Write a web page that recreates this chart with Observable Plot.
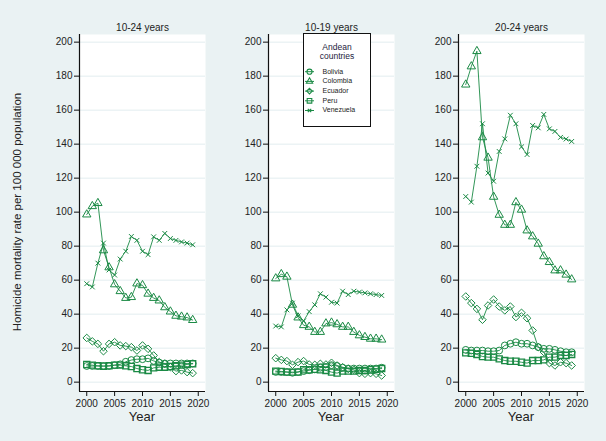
<!DOCTYPE html>
<html>
<head>
<meta charset="utf-8">
<script src="https://cdn.jsdelivr.net/npm/d3@7"></script>
<script src="https://cdn.jsdelivr.net/npm/@observablehq/plot@0.6"></script>
<style>
  html, body { margin: 0; padding: 0; background: #eaf2f3; }
  #root { position: relative; width: 606px; height: 441px; background: #eaf2f3; overflow: hidden;
          font-family: "Liberation Sans", Arial, sans-serif; }
  .panel { position: absolute; top: 0; }
  .ylab { position: absolute; left: 17px; top: 212px; transform: translate(-50%, -50%) rotate(-90deg);
          white-space: nowrap; font-size: 11.5px; color: #222; }
  .xlab { position: absolute; top: 409px; width: 126px; text-align: center; font-size: 13px; color: #222; }
  #legend { position: absolute; left: 303px; top: 33px; }
</style>
</head>
<body>
<div id="root">
  <div class="ylab">Homicide mortality rate per 100 000 population</div>
</div>
<script>
// ---------- data ----------
const years = [2000, 2001, 2002, 2003, 2004, 2005, 2006, 2007, 2008, 2009,
               2010, 2011, 2012, 2013, 2014, 2015, 2016, 2017, 2018, 2019];
const countries = ["Bolivia", "Colombia", "Ecuador", "Peru", "Venezuela"];
const panelTitles = ["10-24 years", "10-19 years", "20-24 years"];
const yTicks = [0, 20, 40, 60, 80, 100, 120, 140, 160, 180, 200];
const xTicks = [2000, 2005, 2010, 2015, 2020];
const legendTitle = ["Andean", "countries"];
const xLabel = "Year";

// 10-24 years
const bolivia1   = [9.5, 9.5, 9.5, 9.5, 9.5, 10, 10.5, 12, 13, 13.5, 13.5, 14, 12.5, 11.5, 11, 11, 11, 11, 11, 11];
const colombia1  = [98.6, 103.5, 105.3, 77.5, 67.5, 57.5, 53.5, 49.5, 50, 58, 57, 52, 49.5, 48, 44, 41.5, 39, 38.5, 38, 36.5];
const ecuador1   = [26, 24, 22.5, 18.2, 22.5, 23.5, 21.6, 21.2, 20.6, 18.6, 21.6, 19.6, 15.7, 11.8, 10.8, 8.8, 6.5, 6.9, 5.9, 5.3];
const peru1      = [10.4, 10, 9.6, 9.4, 9.6, 10, 10, 9.6, 9.2, 8, 7.3, 6.9, 8.4, 8.8, 8.8, 9.2, 9.6, 10, 10.4, 10.8];
const venezuela1 = [57.9, 56, 70, 81.8, 66, 63, 72.4, 77, 85.7, 83.4, 77, 75, 85.5, 83.4, 87.5, 84.5, 83.4, 82.5, 81.8, 80.8];

// 10-19 years
const bolivia2   = [6, 6, 6, 5.5, 6, 6.5, 7, 7.5, 8.5, 9, 10, 9.5, 8.5, 8, 8, 8, 8, 8, 8, 8.5];
const colombia2  = [61, 63.5, 62, 45.5, 38, 33.5, 32.5, 29.5, 29.5, 34.5, 35, 34, 32.5, 32.5, 29.5, 27.5, 26.5, 25.5, 25.5, 25];
const ecuador2   = [14.1, 13.1, 12.4, 10.2, 11.8, 12.4, 10.4, 10.2, 10.8, 10.4, 11.4, 9.8, 8.8, 7.8, 7.3, 5.3, 4.9, 5.3, 4.9, 3.9];
const peru2      = [6.5, 6.3, 5.9, 5.9, 5.9, 7.3, 7.3, 7.6, 7.3, 6.9, 5.9, 5.3, 6.5, 6.5, 6.5, 6.9, 6.9, 7.3, 7.6, 8];
const venezuela2 = [33, 32.5, 42.5, 46.5, 39, 36, 41.5, 45.5, 52, 50, 47, 46.5, 53.5, 51.5, 53.5, 53, 52.5, 52, 51.5, 51];

// 20-24 years
const bolivia3   = [19, 18.6, 18.6, 18.6, 18.2, 18.2, 18.6, 21.6, 22.6, 23.5, 22.6, 22.6, 21.6, 20.6, 19.6, 19.6, 19, 18.2, 17.6, 17.6];
const colombia3  = [175, 185.7, 194.7, 144, 132, 109, 98.4, 92.5, 92.5, 105.8, 101.4, 89.2, 85.7, 81.4, 74, 70.6, 65.7, 65.7, 63.2, 60.4];
const ecuador3   = [50.4, 46.5, 43.1, 36.7, 45.1, 48.6, 44.5, 42.2, 44.5, 38.3, 40.8, 37.6, 30.4, 20.6, 17.7, 11.2, 9.8, 11.7, 11.2, 9.8];
const peru3      = [17.2, 17, 16.3, 15.1, 14.7, 14.7, 13.7, 12.7, 12.3, 12.3, 11.7, 11.2, 12.7, 12.7, 13.1, 14.7, 14.7, 15.7, 15.7, 16.3];
const venezuela3 = [109.2, 105.9, 127, 152, 123, 118.2, 135.7, 143.1, 157, 152, 138.4, 133.9, 151, 149.6, 157.5, 149, 147.5, 144, 143, 141.6];

// ---------- styling ----------
const GREEN = "#1b8a45";
const symbols = {Bolivia: "circle", Colombia: "triangle", Ecuador: "diamond2", Peru: "square2", Venezuela: "times"};
const symR = {Bolivia: 3.4, Colombia: 3.1, Ecuador: 3.4, Peru: 3.9, Venezuela: 2.3};
const panelLefts = [79, 268, 458];
const PW = 126, ML = 40, MR = 4;
const xDomain = [1998.7, 2021.3];
const yDomain = [-5.5, 204.5];

const panels = [
  [bolivia1, colombia1, ecuador1, peru1, venezuela1],
  [bolivia2, colombia2, ecuador2, peru2, venezuela2],
  [bolivia3, colombia3, ecuador3, peru3, venezuela3]
];

const root = document.getElementById("root");

panels.forEach((series, p) => {
  const seriesMarks = [];
  series.forEach((vals, k) => {
    const c = countries[k];
    const data = years.map((yr, i) => ({year: yr, value: vals[i]}));
    seriesMarks.push(Plot.line(data, {x: "year", y: "value", stroke: GREEN, strokeWidth: 0.9}));
    seriesMarks.push(Plot.dot(data, {x: "year", y: "value", symbol: symbols[c], r: symR[c],
      stroke: GREEN, fill: "none", strokeWidth: c === "Peru" ? 1.3 : 1}));
  });
  const chart = Plot.plot({
    width: ML + PW + MR,
    height: 441,
    marginLeft: ML, marginRight: MR, marginTop: 34, marginBottom: 50,
    style: {background: "transparent", fontFamily: "'Liberation Sans', Arial, sans-serif", fontSize: "10px", color: "#222", overflow: "visible"},
    x: {domain: xDomain, label: null},
    y: {domain: yDomain, label: null},
    marks: [
      Plot.frame({fill: "white", stroke: "none"}),
      Plot.gridY(yTicks, {stroke: "#e2edef", strokeOpacity: 1}),
      Plot.axisY(yTicks, {tickSize: 5, tickPadding: 2, label: null, tickFormat: d => String(d), stroke: "#111"}),
      Plot.axisX(xTicks, {tickSize: 5, tickPadding: 3, label: null, tickFormat: d => String(d), stroke: "#111"}),
      Plot.ruleX([xDomain[0]], {stroke: "#111", strokeWidth: 1.2}),
      Plot.ruleY([yDomain[0]], {stroke: "#111", strokeWidth: 1.2}),
      ...seriesMarks,
      Plot.text([panelTitles[p]], {frameAnchor: "top", lineAnchor: "bottom", dy: -4, fontSize: 10, fill: "#222"})
    ]
  });
  chart.classList.add("panel");
  chart.style.left = (panelLefts[p] - ML) + "px";
  root.appendChild(chart);

  const xl = document.createElement("div");
  xl.className = "xlab";
  xl.style.left = panelLefts[p] + "px";
  xl.textContent = xLabel;
  root.appendChild(xl);
});

// ---------- legend ----------
const LW = 67, LH = 93;
const lg = d3.select(root).append("svg").attr("id", "legend").attr("width", LW + 1).attr("height", LH + 1);
lg.append("rect").attr("x", 0.5).attr("y", 0.5).attr("width", LW).attr("height", LH)
  .attr("fill", "white").attr("stroke", "#111").attr("stroke-width", 1);
lg.selectAll("text.t").data(legendTitle).join("text")
  .attr("x", LW / 2 + 0.5).attr("y", (d, i) => 14.5 + i * 9)
  .attr("text-anchor", "middle").attr("dominant-baseline", "middle")
  .attr("font-size", 8.5).attr("fill", "#1c2340").attr("font-family", "'Liberation Sans', Arial, sans-serif")
  .text(d => d);
const d3sym = {circle: d3.symbolCircle, triangle: d3.symbolTriangle, diamond2: d3.symbolDiamond2, square2: d3.symbolSquare2, times: d3.symbolTimes};
countries.forEach((c, i) => {
  const cy = 38.7 + i * 9.7;
  const g = lg.append("g");
  g.append("line").attr("x1", 2).attr("x2", 11).attr("y1", cy).attr("y2", cy).attr("stroke", GREEN).attr("stroke-width", 1);
  g.append("path").attr("transform", `translate(6.5,${cy})`)
    .attr("d", d3.symbol(d3sym[symbols[c]], Math.PI * (symR[c] * 0.75) ** 2)())
    .attr("fill", "none").attr("stroke", GREEN).attr("stroke-width", 1.1);
  g.append("text").attr("x", 19.5).attr("y", cy).attr("dominant-baseline", "middle")
    .attr("font-size", 7).attr("fill", "#222").attr("font-family", "'Liberation Sans', Arial, sans-serif")
    .text(c);
});
</script>
</body>
</html>
